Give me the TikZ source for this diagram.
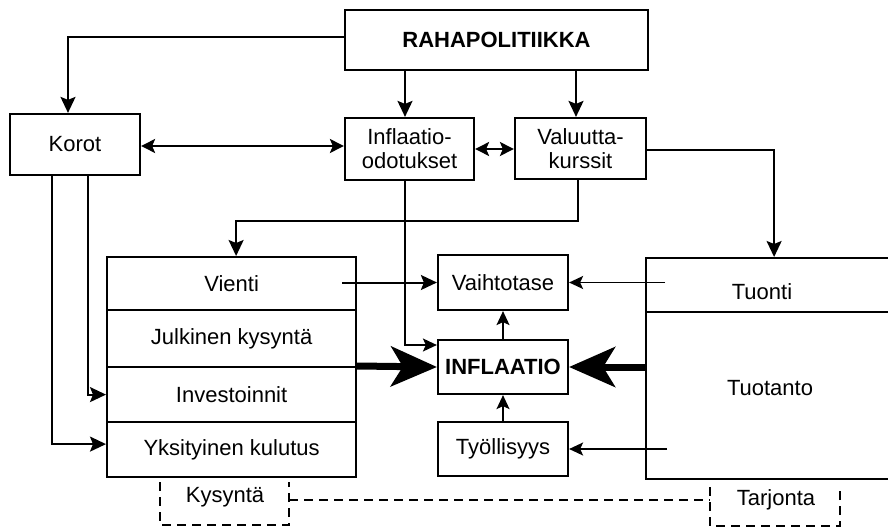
\documentclass[tikz,border=0pt]{standalone}
\usepackage{fontspec}
\setmainfont{Liberation Sans}
\usetikzlibrary{arrows.meta}
\begin{document}
\begin{tikzpicture}[x=1pt,y=-1pt,
  font=\fontsize{22}{24}\selectfont,
  box/.style={draw, line width=2.2pt, inner sep=0pt, align=center},
  arr/.style={line width=2pt, -{Stealth[length=16pt,width=15pt,inset=3pt]}},
  thinarr/.style={line width=1.7pt, -{Stealth[length=14pt,width=13pt,inset=3pt]}},
  darr/.style={line width=2pt, {Stealth[length=14pt,width=14pt,inset=3pt]}-{Stealth[length=14pt,width=14pt,inset=3pt]}},
  bigarr/.style={line width=7pt, -{Stealth[length=46pt,width=40pt,inset=12pt]}},
  dsh/.style={line width=2pt, dash pattern=on 9pt off 6pt},
  lbl/.style={inner sep=0pt}
]
\useasboundingbox (0,0) rectangle (888,527);
\clip (0,0) rectangle (888,527);

% top row
\node[box, minimum width=303pt, minimum height=60pt] (raha) at (496.5,40) {\bfseries RAHAPOLITIIKKA};
\node[box, minimum width=130pt, minimum height=61pt] (korot) at (75,144.5) {Korot};
\node[box, minimum width=129pt, minimum height=62pt] (infl) at (409.5,149) {Inflaatio-\\odotukset};
\node[box, minimum width=131pt, minimum height=61pt] (valu) at (580.5,148.5) {Valuutta-\\kurssit};

% left stack
\node[box, anchor=north west, minimum width=249pt, minimum height=53pt] (vienti) at (106,256) {Vienti};
\node[box, anchor=north west, minimum width=249pt, minimum height=57pt] (julk) at (106,309) {Julkinen kysyntä};
\node[box, anchor=north west, minimum width=249pt, minimum height=55pt] (inv) at (106,366) {Investoinnit};
\node[box, anchor=north west, minimum width=249pt, minimum height=55pt] (yks) at (106,421) {Yksityinen kulutus};

% middle column
\node[box, minimum width=130pt, minimum height=55pt] (vaiht) at (503,282.5) {Vaihtotase};
\node[box, minimum width=130pt, minimum height=54pt] (inflaatio) at (503,367) {\bfseries INFLAATIO};
\node[box, minimum width=130pt, minimum height=54pt] (tyo) at (503,449) {Työllisyys};

% right box
\node[box, anchor=north west, minimum width=270pt, minimum height=54pt] (tuontibox) at (645,257) {};
\node[box, anchor=north west, minimum width=270pt, minimum height=167pt] (tuotantobox) at (645,311) {};
\node[lbl] (tuonti) at (762,292) {Tuonti};
\node[lbl] (tuotanto) at (770,388) {Tuotanto};

% connectors
\draw[arr] ([yshift=3pt]raha.west) -| ([xshift=-7pt]korot.north);
\draw[arr] ([xshift=-4.5pt]infl.north |- raha.south) -- ([xshift=-4.5pt]infl.north);
\draw[arr] ([xshift=-4.5pt]valu.north |- raha.south) -- ([xshift=-4.5pt]valu.north);
\draw[darr] ([yshift=-1.5pt]korot.east) -- ([yshift=-1.5pt]korot.east -| infl.west);
\draw[darr] (infl.east) -- (infl.east -| valu.west);
\draw[arr] ([yshift=-1.5pt]valu.east) -| ([xshift=-7pt]tuontibox.north);
\draw[arr] ([xshift=-2.5pt]valu.south) -- ++(0,41) -| ([xshift=4.5pt]vienti.north);
\draw[thinarr] ([xshift=-4.5pt]infl.south) |- ([yshift=22pt]inflaatio.west);

\coordinate (vsrc) at (342,282.5);
\coordinate (tsrc) at (665,282.5);
\coordinate (ysrc) at (667,449);
\draw[arr] (vsrc) -- (vaiht.west);
\draw[thinarr] (tsrc) -- (vaiht.east);
\draw[thinarr] (ysrc) -- (tyo.east);

\draw[arr] ([xshift=-23pt]korot.south) |- ([yshift=5.5pt]yks.west);
\draw[arr] ([xshift=13pt]korot.south) |- (inv.west);

\draw[bigarr] (inv.north east) -- (inflaatio.west);
\draw[bigarr] (tuotantobox.west |- inflaatio.east) -- (inflaatio.east);

\draw[thinarr] (inflaatio.north) -- (vaiht.south);
\draw[thinarr] (tyo.north) -- (inflaatio.south);

% supply / demand
\node[lbl] (kys) at (225,497) {Kysyntä};
\node[lbl] (tarj) at (776,500) {Tarjonta};
\coordinate (kysR) at (289,500);
\coordinate (tarjL) at (710,500);
\draw[dsh] (160,482) -- (160,525) -- (289,525) -- (289,482);
\draw[dsh] (kysR) -- (tarjL);
\draw[dsh] (710,487) -- (710,526) -- (840,526) -- (840,487);
\end{tikzpicture}
\end{document}
